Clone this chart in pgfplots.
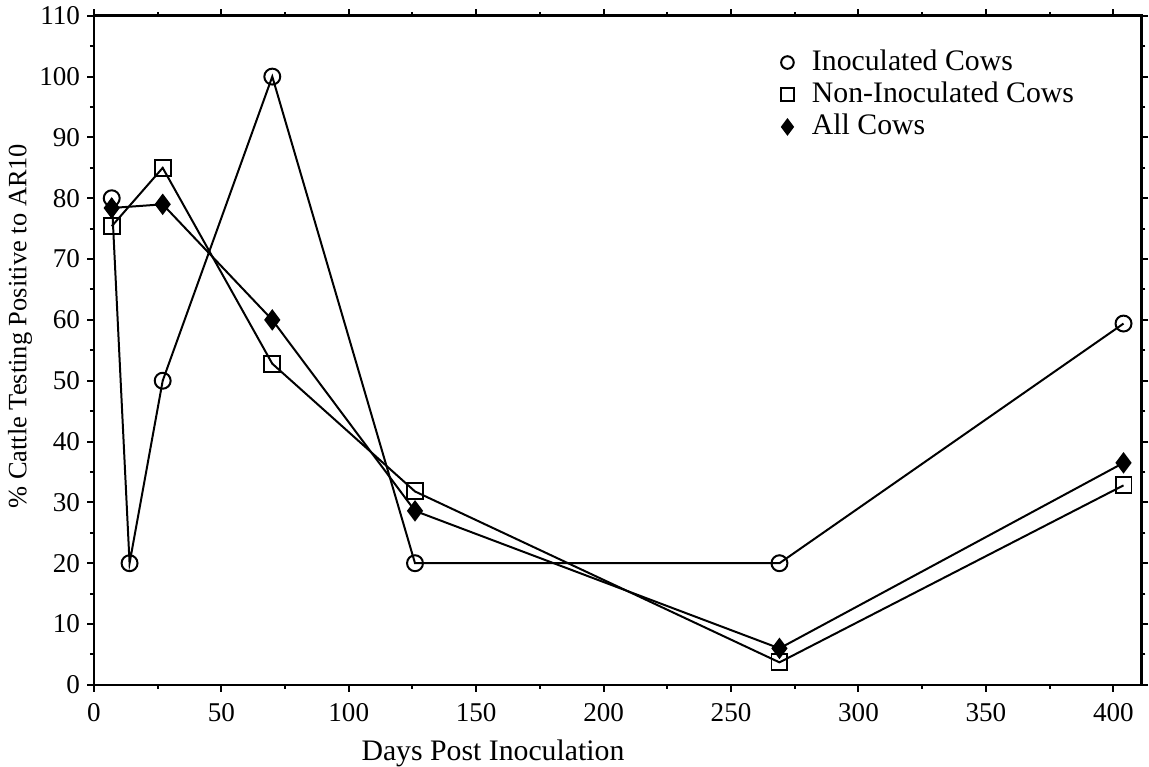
\documentclass[border=0pt]{standalone}
\usepackage{fontspec}
\setmainfont{Liberation Serif}
\usepackage{pgfplots}
\pgfplotsset{compat=1.18}

\begin{document}
\begin{tikzpicture}
\begin{axis}[
    scale only axis,
    width=315.6bp,
    height=201.6bp,
    xmin=0, xmax=411,
    ymin=0, ymax=110,
    xtick={0,50,...,400},
    ytick={0,10,...,110},
    minor x tick num=1,
    minor y tick num=1,
    tick align=outside,
    major tick length=2bp,
    minor tick length=1.2bp,
    every tick/.style={black, line width=0.6bp},
    axis line style={line width=0.8bp},
    font=\fontsize{9}{10}\selectfont,
    /pgf/number format/assume math mode=true,
    ticklabel style={font=\fontsize{8.2}{10}\selectfont},
    yticklabel style={inner sep=2pt},
    xlabel={Days Post Inoculation},
    xlabel style={at={(ticklabel cs:0.381,0)}, anchor=north, inner sep=0pt, yshift=-2bp},
    ylabel={\% Cattle Testing Positive to AR10},
    ylabel style={at={(ticklabel cs:0.536,-2.4bp)}, anchor=south, inner xsep=0pt, inner ysep=2.4bp,
        font=\fontsize{8}{10}\selectfont},
    legend style={at={(0.646,0.97)}, anchor=north west, draw=none, fill=none,
        font=\fontsize{9}{11}\selectfont, row sep=-2bp,
        /tikz/every odd column/.append style={column sep=3.5bp}},
    legend cell align=left,
    legend image code/.code={\draw[#1, only marks, mark size=1.9bp] plot coordinates {(0.1cm,0cm)};},
    every axis plot/.append style={black, line width=0.6bp, mark size=2.4bp},
]
\addplot[mark=o, mark options={fill=white, line width=0.6bp}] coordinates {
    (7,80) (14,20) (27,50) (70,100) (126,20) (269,20) (404,59.4)
};
\addplot[mark=square, mark options={fill=white, line width=0.6bp}] coordinates {
    (7,75.4) (27,85) (70,52.8) (126,31.8) (269,3.7) (404,32.8)
};
\addplot[mark=diamond*, mark options={fill=black, scale=1.15}] coordinates {
    (7,78.4) (27,79) (70,60) (126,28.6) (269,6) (404,36.5)
};
\legend{Inoculated Cows, Non-Inoculated Cows, All Cows}
\end{axis}
\end{tikzpicture}
\end{document}
